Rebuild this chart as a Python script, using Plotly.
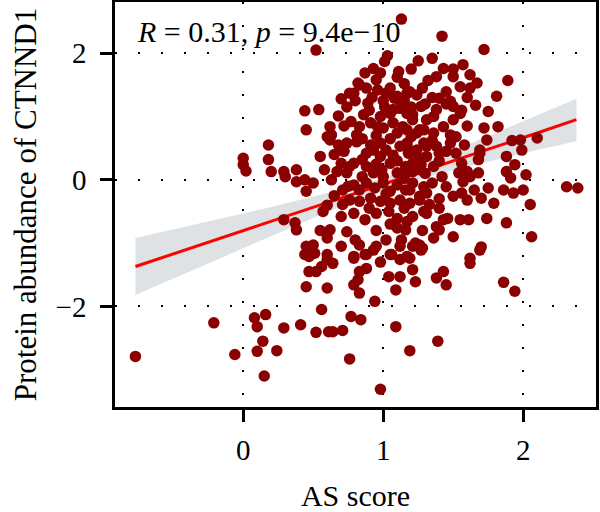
import plotly.graph_objects as go

# ---- data ----
as_score = [
    1.13, 1.42, 0.52, 1.72, 1.03, 1.01, 1.25, 1.35, 1.57, 1.43, 1.11, 0.93, 0.87, 0.98, 1.89, 1.38, 1.50, 1.62, 1.32, 1.67,
    1.55, 0.82, 0.88, 0.79, 0.96, 1.02, 1.19, 1.24, 1.45, 1.40, 1.81, 1.08, 1.13, 0.89, 0.74, 1.01, 1.07, 1.27, 1.38, 1.50,
    1.66, 1.75, 0.44, 0.54, 0.68, 0.86, 0.98, 1.21, 1.36, 1.55,
    1.56, 1.48, 1.15, 1.31, 1.21, 1.17, 1.26, 1.36, 1.43, 1.48, 1.72, 1.82, 1.74, 1.52, 1.58, 1.92, 1.98, 2.10, 1.69, 1.31,
    1.38, 1.17,
    0.83, 0.76, 1.10, 1.17, 1.12, 1.17, 0.62, 0.45, 0.77, 0.83, 0.81, 0.91, 0.96, 1.07, 1.10, 1.14, 1.24, 1.29, 0.63, 0.60,
    0.18, 0.98, 0.91,
    0.18, 0.20, 0.29, 0.30, 0.38, 0.38, 0.44, 0.50, 0.45, 0.55, 0.58, 0.63, 0.67, 0.70, 0.76, 0.79, 0.74, 0.62, 0.74, 0.81,
    0.88, 0.93, 0.98, 1.02, 1.07, 1.12, 1.18, 1.24, 1.29, 0.88, 0.93, 0.99, 1.05, 1.10, 1.16, 1.21, 1.27, 0.71, 0.79, 0.83,
    0.88, 0.94, 1.00, 1.05, 1.10, 1.16, 1.21, 1.29, 0.71, 0.76, 0.83, 0.91, 0.98, 1.05, 1.12, 1.19, 1.26, 0.57, 0.70, 0.79,
    0.87, 0.95, 1.04, 1.10, 1.17, 1.21, 1.29, 0.29, 0.37, 0.38, 0.62, 0.60, 0.74, 0.45, 0.50, 0.44, 0.51, 0.83, 0.87, 0.95,
    1.02, 1.10, 1.16, 1.13, 1.21, 1.26, 0.60, 0.79, 1.05,
    1.69, 1.68, 1.88, 1.94, 1.99, 1.88, 1.91, 2.02, 2.31, 2.39, 1.17, 1.21, 1.31, 1.40, 1.17, 1.26, 1.36, 1.48, 1.52, 1.56,
    1.60, 1.62, 1.68, 1.54, 1.57, 1.45, 1.50, 1.56, 1.60, 1.65, 1.75, 1.70, 1.79, 1.86, 1.93, 2.00, 2.05, 1.19, 1.26, 1.31,
    1.33, 1.31, 1.38, 1.43, 1.46, 1.55, 1.61, 1.74, 1.88, 1.36, 1.40, 1.23, 1.28, 1.70, 2.06, 1.17, 1.62,
    0.47, 0.60, 0.64, 0.47, 0.52, 0.56, 0.45, 0.60, 0.79, 0.88, 0.93, 0.83, 0.88, 0.82, 0.79, 0.83, 0.94, 1.06, 1.12, 1.19,
    1.27, 1.04, 1.12, 1.21, 1.23, 1.09, 0.56, 0.77, 0.84, 0.08, 0.16, 0.10, 0.29, 0.41, 0.52, 0.61, 0.64, 0.71, 1.09, 0.14,
    0.10, 0.24, 0.76, 1.19, 0.15, 0.98,
    1.38, 1.43, 1.45, 1.69, 1.62, 1.86, 1.94, 1.39,
    0.00, 0.00, 0.02, -0.21, -0.77, -0.06,
    0.80, 0.92, 1.00, 1.05, 1.15, 1.28, 1.35, 1.30, 1.45, 1.60, 1.62, 0.95, 1.10, 1.20, 1.50, 1.05, 0.90, 0.72, 0.68, 0.85,
    1.05, 1.20, 1.35, 1.45, 1.40, 1.30, 1.42, 1.35, 0.65, 0.72, 0.85, 1.00, 1.15, 0.90, 1.02, 1.15, 1.40, 1.40, 0.65, 0.60,
    0.95, 1.05, 0.80, 1.28, 1.50, 0.70, 0.98, 1.12, 0.55, 1.60, 1.50, 0.95, 1.10, 0.85, 1.25, 0.75, 0.95, 1.20, 0.70, 1.00,
]
protein = [
    2.54, 2.27, 2.05, 2.06, 1.96, 1.87, 1.88, 1.92, 1.82, 1.76, 1.71, 1.76, 1.69, 1.69, 1.57, 1.63, 1.63, 1.66, 1.57, 1.53,
    1.47, 1.53, 1.45, 1.37, 1.42, 1.37, 1.39, 1.34, 1.39, 1.29, 1.32, 1.29, 1.21, 1.21, 1.15, 1.15, 1.11, 1.16, 1.11, 1.16,
    1.18, 1.08, 1.09, 1.11, 1.01, 1.03, 1.00, 1.03, 1.00, 1.05,
    1.10, 1.24, 1.26, 0.95, 0.95, 0.79, 0.79, 0.74, 0.84, 0.71, 0.82, 0.84, 0.63, 0.68, 0.55, 0.62, 0.63, 0.66, 0.47, 0.53,
    0.53, 0.58,
    1.50, 1.37, 1.32, 1.37, 1.13, 1.05, 0.84, 0.79, 0.92, 0.84, 0.71, 0.90, 0.84, 0.90, 0.74, 0.84, 0.74, 0.79, 0.71, 0.68,
    0.55, 0.58, 0.55,
    0.32, 0.13, 0.13, 0.05, 0.16, -0.03, 0.00, -0.05, -0.18, 0.37, 0.16, 0.00, 0.13, 0.26, 0.21, 0.26, 0.11, 0.63, 0.58, 0.60,
    0.42, 0.47, 0.37, 0.47, 0.39, 0.53, 0.42, 0.47, 0.58, 0.21, 0.11, 0.16, 0.26, 0.11, 0.21, 0.13, 0.24, -0.16, -0.08, -0.16,
    -0.05, -0.13, -0.05, -0.18, -0.08, -0.16, -0.05, -0.11, -0.39, -0.32, -0.34, -0.29, -0.34, -0.37, -0.32, -0.37, -0.32, -0.50, -0.58, -0.53,
    -0.63, -0.53, -0.50, -0.61, -0.66, -0.58, -0.50, -0.63, -0.68, -0.79, -0.79, -0.92, -0.82, -1.05, -1.03, -1.18, -1.16, -1.03, -1.18, -1.05,
    -0.95, -0.76, -0.79, -0.95, -1.05, -1.03, -1.18, -1.21, -1.18,
    0.42, 0.32, 0.37, 0.24, 0.47, 0.13, 0.03, 0.08, -0.11, -0.13, 0.53, 0.26, 0.37, 0.42, 0.16, 0.16, 0.21, 0.58, 0.42, 0.26,
    0.13, 0.05, 0.11, 0.11, -0.03, -0.11, -0.26, -0.21, -0.32, -0.16, -0.13, -0.29, -0.37, -0.16, -0.21, -0.16, -0.39, -0.16, -0.26, -0.21,
    -0.39, -0.53, -0.74, -0.63, -0.61, -0.63, -0.63, -0.61, -0.68, -0.92, -0.79, -1.00, -1.08, -1.06, -0.90, -1.21, -1.24,
    -1.21, -1.26, -1.32, -1.45, -1.45, -1.37, -1.69, -1.71, -1.24, -1.18, -1.11, -1.45, -1.40, -1.58, -1.66, -1.79, -1.92, -1.18, -1.26, -1.24,
    -1.11, -1.53, -1.53, -1.42, -1.61, -1.74, -2.05, -2.16, -2.21, -2.18, -2.13, -2.32, -2.34, -2.29, -2.41, -2.40, -2.40, -2.38, -2.32, -2.55,
    -2.71, -2.70, -2.83, -2.70, -3.10, -3.31,
    -1.55, -1.45, -1.66, -1.11, -1.32, -1.62, -1.76, -2.55,
    0.34, 0.24, 0.14, -2.26, -2.79, -2.76,
    1.25, 1.30, 1.25, 1.45, 1.52, 1.45, 1.30, 1.20, 1.20, 1.30, 1.45, 1.58, 1.62, 1.75, 1.75, 1.05, 1.10, 0.85, 0.55, 0.65,
    0.65, 0.68, 0.62, 0.45, 0.30, 0.10, 0.05, -0.05, 0.40, 0.45, 0.05, 0.05, 0.02, -0.45, -0.22, -0.45, -0.30, -0.45, -0.25, -0.40,
    -0.80, -0.70, -0.95, -0.80, -0.90, -1.05, -1.30, -1.05, -0.80, 0.85, 0.95, 0.25, 0.30, 0.32, 0.35, -0.10, 0.70, 1.15, 1.28, 0.82,
]

# regression line and its confidence band
fit_x = [-0.77, -0.30, 0.20, 0.60, 1.00, 1.40, 1.80, 2.10, 2.38]
fit_y = [-1.37, -1.02, -0.66, -0.36, -0.07, 0.23, 0.52, 0.74, 0.95]
band_lo = [-1.82, -1.37, -0.89, -0.51, -0.17, 0.10, 0.31, 0.47, 0.61]
band_hi = [-0.92, -0.68, -0.43, -0.21, 0.03, 0.36, 0.73, 1.02, 1.28]

x_ticks = [0, 1, 2]
y_ticks = [-2, 0, 2]
y_tick_text = ["\u22122", "0", "2"]
stat_label = "<i>R</i> = 0.31, <i>p</i> = 9.4e\u221210"

FONT = "Liberation Serif"

fig = go.Figure()
fig.add_trace(go.Scatter(
    x=fit_x + fit_x[::-1], y=band_hi + band_lo[::-1],
    fill="toself", fillcolor="#DFE2E5", line=dict(width=0),
    mode="lines", hoverinfo="skip", showlegend=False))
fig.add_trace(go.Scatter(
    x=fit_x, y=fit_y, mode="lines",
    line=dict(color="#FF0000", width=3), showlegend=False))
fig.add_trace(go.Scatter(
    x=as_score, y=protein, mode="markers",
    marker=dict(color="#8B0000", size=11.5, line=dict(width=0)),
    showlegend=False))

fig.add_annotation(
    x=-0.77, y=2.35, xref="x", yref="y", text=stat_label, showarrow=False,
    xanchor="left", yanchor="middle", font=dict(family=FONT, size=30, color="black"))

grid = dict(showgrid=True, gridcolor="black", gridwidth=2, griddash="2px,21px",
            zeroline=False, showline=True, linecolor="black", linewidth=2.5, mirror=True,
            ticks="outside", ticklen=12, tickwidth=2.5, tickcolor="black", automargin=False,
            tickfont=dict(family=FONT, size=29, color="black"))

fig.update_xaxes(range=[-0.916, 2.52], dtick=0.5,
                 title=dict(text="AS score", font=dict(family=FONT, size=30, color="black"), standoff=22),
                 ticklabelstandoff=3, **grid)
fig.update_xaxes(tickmode="array", tickvals=x_ticks)
fig.update_yaxes(range=[-3.59, 2.81], tickvals=y_ticks, ticktext=y_tick_text,
                 title=dict(text="Protein abundance of CTNND1", font=dict(family=FONT, size=31, color="black"), standoff=10),
                 ticklabelstandoff=8, **grid)

fig.update_layout(
    width=600, height=512,
    margin=dict(l=115, r=4, t=2, b=105),
    plot_bgcolor="white", paper_bgcolor="white",
)
fig.write_html("out.html")
